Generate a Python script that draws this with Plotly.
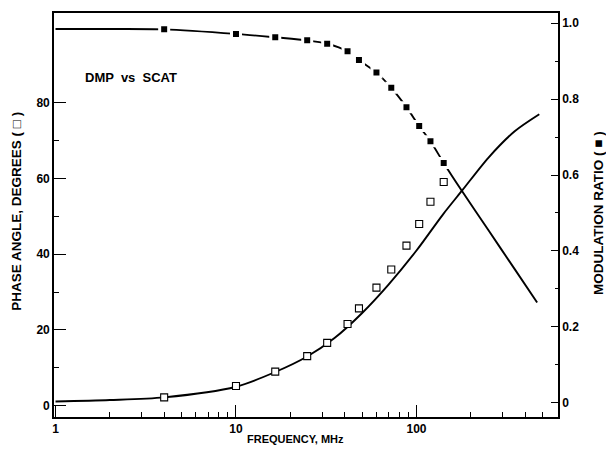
import plotly.graph_objects as go

# ---- data ----
freq_pts = [4, 10, 16.5, 24.8, 32, 41.5, 48, 60, 72.5, 88, 103.5, 119.5, 141.5]
phase_pts = [2.2, 5.2, 9.0, 13.1, 16.6, 21.6, 25.7, 31.2, 36.0, 42.3, 48.0, 53.9, 59.1]
mod_pts = [0.984, 0.972, 0.963, 0.955, 0.946, 0.926, 0.903, 0.870, 0.830, 0.779, 0.729, 0.689, 0.632]

phase_fit_f = [1, 2, 4, 10, 16.5, 24.8, 35, 50, 70, 100, 140, 180, 250, 350, 479]
phase_fit_v = [1.1, 1.5, 2.2, 5.0, 8.9, 13.0, 17.8, 24.5, 32.0, 41.0, 50.5, 57.0, 65.5, 72.5, 77.0]

mod_fit_f = [1, 2, 4, 10, 16.5, 24.8, 32, 41.5, 48, 60, 72.5, 88, 103.5, 119.5, 141.5, 176, 250, 350, 466]
mod_fit_v = [0.985, 0.985, 0.984, 0.972, 0.963, 0.955, 0.946, 0.926, 0.903, 0.870, 0.830, 0.779,
             0.729, 0.689, 0.632, 0.5625, 0.455, 0.352, 0.264]

x_major = [1, 10, 100]
x_major_text = ["1", "10", "100"]
x_minor = [2, 3, 4, 5, 6, 7, 8, 9, 20, 30, 40, 50, 60, 70, 80, 90, 200, 300, 400, 500]
y_major = [0, 20, 40, 60, 80]
y_minor = [10, 30, 50, 70]
y2_major = [0, 0.2, 0.4, 0.6, 0.8, 1.0]
y2_major_text = ["0", "0.2", "0.4", "0.6", "0.8", "1.0"]
y2_minor = [0.1, 0.3, 0.5, 0.7, 0.9]

TICKFONT = dict(family="Liberation Sans", size=12, color="black", weight="bold")
TITLEFONT = dict(family="Liberation Sans", size=13.5, color="black", weight="bold")

fig = go.Figure()

fig.add_trace(go.Scatter(x=phase_fit_f, y=phase_fit_v, mode="lines",
                         line=dict(color="black", width=1.9, shape="spline", smoothing=0.8),
                         showlegend=False, hoverinfo="skip"))
fig.add_trace(go.Scatter(x=freq_pts, y=phase_pts, mode="markers",
                         marker=dict(symbol="square", size=7, color="white",
                                     line=dict(color="black", width=1.1)),
                         showlegend=False))
fig.add_trace(go.Scatter(x=mod_fit_f, y=mod_fit_v, mode="lines", yaxis="y2",
                         line=dict(color="black", width=1.9, shape="spline", smoothing=0.8),
                         showlegend=False, hoverinfo="skip"))
fig.add_trace(go.Scatter(x=freq_pts, y=mod_pts, mode="markers", yaxis="y2",
                         marker=dict(symbol="square", size=9, color="black",
                                     line=dict(color="white", width=3)),
                         showlegend=False))

fig.update_layout(
    width=606, height=455,
    margin=dict(l=54, r=48, t=13, b=38, autoexpand=False),
    paper_bgcolor="white", plot_bgcolor="white",
    showlegend=False,
    xaxis=dict(type="log", range=[-0.0083, 2.784],
               tickmode="array", tickvals=x_major, ticktext=x_major_text,
               ticks="inside", ticklen=12, tickwidth=1.2, tickcolor="black",
               minor=dict(tickmode="array", tickvals=x_minor, ticks="inside",
                          ticklen=5, tickwidth=1.1, tickcolor="black", showgrid=False),
               showline=True, linecolor="black", linewidth=1.6, mirror=True,
               showgrid=False, zeroline=False, tickfont=TICKFONT, automargin=False),
    yaxis=dict(range=[-2.99, 103.75],
               tickmode="array", tickvals=y_major,
               ticks="inside", ticklen=12, tickwidth=1.1, tickcolor="black",
               minor=dict(tickmode="array", tickvals=y_minor, ticks="inside",
                          ticklen=5, tickwidth=1.1, tickcolor="black", showgrid=False),
               showline=True, linecolor="black", linewidth=1.6,
               showgrid=False, zeroline=False, tickfont=TICKFONT, automargin=False),
    yaxis2=dict(range=[-0.0377, 1.0271], overlaying="y", side="right",
                tickmode="array", tickvals=y2_major, ticktext=y2_major_text,
                ticks="inside", ticklen=7, tickwidth=1.1, tickcolor="black",
                minor=dict(tickmode="array", tickvals=y2_minor, ticks="inside",
                           ticklen=3, tickwidth=1.0, tickcolor="black", showgrid=False),
                showline=True, linecolor="black", linewidth=1.6,
                showgrid=False, zeroline=False, tickfont=TICKFONT, automargin=False),
)

fig.add_annotation(text="PHASE ANGLE, DEGREES ( \u25a1 )", xref="paper", yref="paper",
                   x=-0.0734, y=0.508, textangle=-90, showarrow=False,
                   xanchor="center", yanchor="middle", font=TITLEFONT)
fig.add_annotation(text="MODULATION RATIO ( \u25a0 )", xref="paper", yref="paper",
                   x=1.080, y=0.506, textangle=-90, showarrow=False,
                   xanchor="center", yanchor="middle", font=TITLEFONT)
fig.add_annotation(text="FREQUENCY, MHz", xref="paper", yref="paper",
                   x=0.480, y=-0.0545, showarrow=False,
                   xanchor="center", yanchor="middle",
                   font=dict(family="Liberation Sans", size=11, color="black", weight="bold"))
fig.add_annotation(text="DMP  vs  SCAT", xref="paper", yref="paper",
                   x=0.0575, y=0.840, showarrow=False,
                   xanchor="left", yanchor="middle",
                   font=dict(family="Liberation Sans", size=13, color="black", weight="bold"))

fig.write_html("out.html")
